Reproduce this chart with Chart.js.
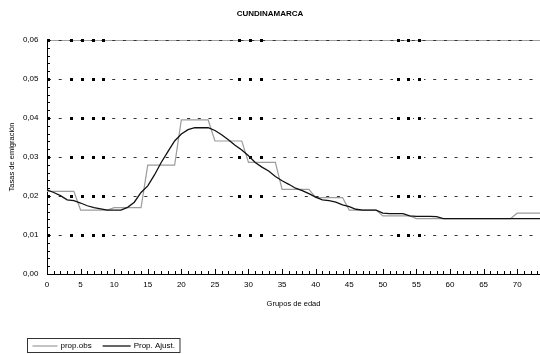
<!DOCTYPE html>
<html>
<head>
<meta charset="utf-8">
<script src="https://cdn.jsdelivr.net/npm/chart.js@4.4.1/dist/chart.umd.min.js"></script>
<style>
  html, body { margin: 0; padding: 0; background: #fff; }
  #wrap { width: 540px; height: 354px; }
</style>
</head>
<body>
<div id="wrap"><canvas id="c" width="540" height="354"></canvas></div>
<script>
// Single-year ages
const ages = [0,1,2,3,4,5,6,7,8,9,10,11,12,13,14,15,16,17,18,19,20,21,22,23,24,
  25,26,27,28,29,30,31,32,33,34,35,36,37,38,39,40,41,42,43,44,45,46,47,48,49,
  50,51,52,53,54,55,56,57,58,59,60,61,62,63,64,65,66,67,68,69,70,71,72,73,74];

// Observed emigration rates (constant within each five-year group)
const propObs = [
  0.0212,0.0212,0.0212,0.0212,0.0212,
  0.0164,0.0164,0.0164,0.0164,0.0164,
  0.0170,0.0170,0.0170,0.0170,0.0170,
  0.0279,0.0279,0.0279,0.0279,0.0279,
  0.0395,0.0395,0.0395,0.0395,0.0395,
  0.0341,0.0341,0.0341,0.0341,0.0341,
  0.0286,0.0286,0.0286,0.0286,0.0286,
  0.0217,0.0217,0.0217,0.0217,0.0217,
  0.0196,0.0196,0.0196,0.0196,0.0196,
  0.0164,0.0164,0.0164,0.0164,0.0164,
  0.0149,0.0149,0.0149,0.0149,0.0149,
  0.0142,0.0142,0.0142,0.0142,0.0142,
  0.0142,0.0142,0.0142,0.0142,0.0142,
  0.0142,0.0142,0.0142,0.0142,0.0142,
  0.0156,0.0156,0.0156,0.0156,0.0156
];

// Adjusted (smoothed) emigration rates by single year of age
const propAjust = [
  0.0216,0.0209,0.0201,0.0190,0.0188,0.0182,0.0175,0.0170,0.0167,0.0164,
  0.0164,0.0164,0.0171,0.0184,0.0209,0.0226,0.0254,0.0286,0.0314,0.0341,
  0.0359,0.0370,0.0375,0.0375,0.0375,0.0368,0.0357,0.0344,0.0330,0.0318,
  0.0303,0.0286,0.0274,0.0264,0.0250,0.0239,0.0230,0.0220,0.0214,0.0206,
  0.0197,0.0190,0.0188,0.0184,0.0177,0.0173,0.0166,0.0164,0.0164,0.0164,
  0.0156,0.0155,0.0155,0.0155,0.0149,0.0148,0.0148,0.0148,0.0147,0.0142,
  0.0142,0.0142,0.0142,0.0142,0.0142,0.0142,0.0142,0.0142,0.0142,0.0142,
  0.0142,0.0142,0.0142,0.0142,0.0142
];

// Heavier dash marks along the horizontal grid lines (in age units)
const gridMarkAges = [3.58, 5.17, 6.81, 8.39, 28.66, 30.25, 31.89, 52.2, 53.76, 55.4];

const FONT = "Arial, 'Liberation Sans', sans-serif";

const gridPlugin = {
  id: 'gridDecor',
  beforeDatasetsDraw(chart) {
    const {ctx, chartArea: a, scales: {x, y}} = chart;
    ctx.save();
    ctx.lineWidth = 1;
    // solid line along the top of the plot
    ctx.strokeStyle = '#a0a0a0';
    ctx.beginPath();
    ctx.moveTo(a.left, Math.round(a.top) + 0.5);
    ctx.lineTo(a.right, Math.round(a.top) + 0.5);
    ctx.stroke();
    // dashed horizontal grid
    ctx.strokeStyle = '#333';
    ctx.setLineDash([3, 7.7]);
    y.ticks.forEach(t => {
      if (t.value <= 0) return;
      const py = Math.round(y.getPixelForValue(t.value)) + 0.5;
      ctx.beginPath();
      ctx.moveTo(a.left + 1, py);
      ctx.lineTo(a.right, py);
      ctx.stroke();
    });
    ctx.setLineDash([]);
    // the heavy marks take the place of ordinary dashes
    ctx.fillStyle = '#fff';
    y.ticks.forEach(t => {
      if (t.value <= 0 || t.value >= y.max) return;
      const py = Math.round(y.getPixelForValue(t.value));
      gridMarkAges.forEach(m => {
        const px = Math.round(x.getPixelForValue(m));
        ctx.fillRect(px - 5, py, 10, 1);
      });
    });
    // square marks
    ctx.fillStyle = '#000';
    y.ticks.forEach(t => {
      if (t.value <= 0) return;
      const py = Math.round(y.getPixelForValue(t.value));
      ctx.fillRect(Math.round(a.left), py - 1, 3, 3);
      gridMarkAges.forEach(m => {
        const px = Math.round(x.getPixelForValue(m));
        ctx.fillRect(px - 1, py - 1, 3, 3);
      });
    });
    ctx.restore();
  },
  afterDatasetsDraw(chart) {
    const {ctx, chartArea: a, scales: {x, y}} = chart;
    ctx.save();
    ctx.strokeStyle = '#000';
    ctx.lineWidth = 1;
    ctx.beginPath();
    // minor ticks on the value axis, pointing inward
    for (let v = 0.002; v < y.max - 1e-9; v += 0.002) {
      const py = Math.round(y.getPixelForValue(v)) + 0.5;
      ctx.moveTo(a.left, py);
      ctx.lineTo(a.left + 3, py);
    }
    // age ticks on the horizontal axis, pointing inward
    for (let k = 1; k <= Math.floor(x.max); k++) {
      const px = Math.round(x.getPixelForValue(k)) + 0.5;
      const len = (k % 5 === 0) ? 5 : 3;
      ctx.moveTo(px, a.bottom);
      ctx.lineTo(px, a.bottom - len);
    }
    ctx.stroke();
    ctx.restore();
  }
};

const legendPlugin = {
  id: 'boxLegend',
  afterDraw(chart) {
    const {ctx} = chart;
    const ds = chart.data.datasets;
    ctx.save();
    ctx.font = '8px ' + FONT;
    ctx.textBaseline = 'middle';
    const bx = 27.5, by = 338.5, bh = 14;
    let cx = bx + 5;
    const cy = by + bh / 2;
    const items = [];
    ds.forEach((d, i) => {
      const lineLen = i === 0 ? 25 : 28;
      items.push({d, x: cx, lineLen});
      cx += lineLen + 3 + ctx.measureText(d.label).width + 11;
    });
    const bw = cx - 11 + 5 - bx;
    ctx.strokeStyle = '#333';
    ctx.lineWidth = 1;
    ctx.strokeRect(bx, by, bw, bh);
    items.forEach(it => {
      ctx.strokeStyle = it.d.borderColor;
      ctx.lineWidth = it.d.borderWidth;
      ctx.beginPath();
      ctx.moveTo(it.x, cy + 0.5);
      ctx.lineTo(it.x + it.lineLen, cy + 0.5);
      ctx.stroke();
      ctx.fillStyle = '#000';
      ctx.fillText(it.d.label, it.x + it.lineLen + 3, cy);
    });
    ctx.restore();
  }
};

new Chart(document.getElementById('c'), {
  type: 'line',
  data: {
    labels: ages,
    datasets: [
      {
        label: 'prop.obs',
        data: propObs,
        borderColor: '#9c9c9c',
        borderWidth: 1.2,
        pointRadius: 0,
        tension: 0,
        order: 1
      },
      {
        label: 'Prop. Ajust.',
        data: propAjust,
        borderColor: '#111',
        borderWidth: 1.3,
        pointRadius: 0,
        tension: 0,
        order: 0
      }
    ]
  },
  options: {
    responsive: false,
    animation: false,
    devicePixelRatio: 1,
    layout: { padding: 0 },
    plugins: {
      legend: { display: false },
      tooltip: { enabled: false },
      title: {
        display: true,
        text: 'CUNDINAMARCA',
        color: '#000',
        font: { family: FONT, size: 8, weight: 'bold', lineHeight: 1.2 },
        padding: { top: 9, bottom: 21.4 }
      }
    },
    scales: {
      x: {
        type: 'linear',
        min: 0,
        max: 73.4,
        afterFit(s) { s.height = 80; },
        grid: { display: false, drawTicks: false },
        border: { display: true, color: '#000', width: 1 },
        ticks: {
          stepSize: 5,
          includeBounds: false,
          padding: 6,
          color: '#000',
          maxRotation: 0,
          autoSkip: false,
          font: { family: FONT, size: 8 }
        },
        title: {
          display: true,
          text: 'Grupos de edad',
          color: '#000',
          font: { family: FONT, size: 7.5, lineHeight: 1.2 },
          padding: { top: 0, bottom: 45.5 }
        }
      },
      y: {
        min: 0,
        max: 0.06,
        afterFit(s) { s.width = 47; },
        grid: { display: false, drawTicks: false },
        border: { display: true, color: '#000', width: 1 },
        ticks: {
          stepSize: 0.01,
          padding: 8.5,
          color: '#000',
          font: { family: FONT, size: 8 },
          callback: v => v.toFixed(2).replace('.', ',')
        },
        title: {
          display: true,
          text: 'Tasas de emigración',
          color: '#000',
          font: { family: FONT, size: 7.5, lineHeight: 1.2 },
          padding: { top: 7, bottom: 0 }
        }
      }
    }
  },
  plugins: [gridPlugin, legendPlugin]
});
</script>
</body>
</html>
